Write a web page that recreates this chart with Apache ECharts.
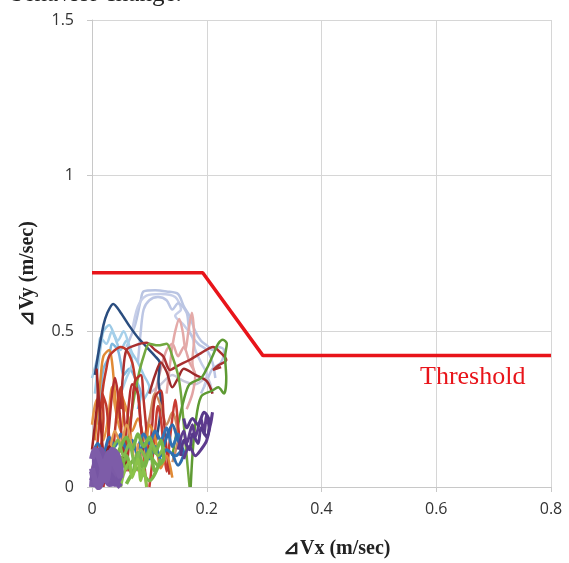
<!DOCTYPE html>
<html><head><meta charset="utf-8">
<script src="https://cdn.jsdelivr.net/npm/echarts@6/dist/echarts.min.js"></script>
<style>html,body{margin:0;padding:0;background:#fff}#c{width:569px;height:563px}</style>
</head><body><div id="c"></div>
<script>
const xTicks = [0, 0.2, 0.4, 0.6, 0.8];
const yTicks = [0, 0.5, 1, 1.5];
const threshold = [[0,0.688],[0.193,0.688],[0.298,0.422],[0.8,0.422]];

const tDarkBlue = [[0.005,0.36],[0.012,0.44],[0.02,0.52],[0.026,0.556],[0.037,0.588],[0.05,0.56],[0.066,0.515],[0.08,0.48],[0.095,0.45],[0.11,0.42],[0.118,0.40],[0.116,0.34],[0.12,0.28],[0.118,0.22],[0.112,0.15]];
const tLav1 = [[0.06,0.45],[0.075,0.52],[0.085,0.6],[0.09,0.628],[0.11,0.632],[0.13,0.628],[0.15,0.62],[0.16,0.58],[0.17,0.55],[0.18,0.5],[0.19,0.47],[0.2,0.455],[0.21,0.44],[0.22,0.45],[0.23,0.44],[0.225,0.40],[0.21,0.38],[0.2,0.34],[0.19,0.3]];
const tLav2 = [[0.07,0.5],[0.08,0.58],[0.095,0.615],[0.12,0.62],[0.145,0.61],[0.155,0.57],[0.145,0.55],[0.16,0.52],[0.175,0.48],[0.18,0.44],[0.19,0.4],[0.2,0.36],[0.195,0.32]];
const tLav3 = [[0.08,0.4],[0.085,0.5],[0.09,0.57],[0.1,0.6],[0.115,0.61],[0.13,0.6],[0.14,0.57],[0.15,0.59],[0.165,0.56],[0.17,0.5],[0.185,0.46],[0.2,0.44],[0.21,0.4],[0.215,0.35]];
const tLightBlue1 = [[0.005,0.3],[0.01,0.38],[0.015,0.45],[0.02,0.5],[0.03,0.52],[0.04,0.48],[0.05,0.44],[0.06,0.47],[0.07,0.43],[0.08,0.4],[0.09,0.36],[0.1,0.32],[0.09,0.28]];
const tLightBlue2 = [[0.01,0.2],[0.015,0.3],[0.02,0.38],[0.03,0.42],[0.035,0.46],[0.045,0.44],[0.05,0.4],[0.055,0.36],[0.065,0.38],[0.075,0.35],[0.085,0.3],[0.08,0.25]];
const tLightBlue3 = [[0.0,0.35],[0.01,0.42],[0.015,0.48],[0.025,0.46],[0.035,0.5],[0.045,0.47],[0.055,0.5],[0.065,0.45],[0.07,0.4],[0.06,0.35],[0.05,0.3]];
const tPink = [[0.1,0.2],[0.11,0.3],[0.12,0.38],[0.13,0.44],[0.14,0.46],[0.15,0.42],[0.16,0.45],[0.17,0.4],[0.18,0.36],[0.175,0.3],[0.165,0.25]];
const tPink2 = [[0.13,0.3],[0.135,0.38],[0.14,0.45],[0.145,0.5],[0.152,0.54],[0.158,0.5],[0.163,0.44],[0.168,0.5],[0.174,0.56],[0.178,0.48],[0.175,0.4],[0.18,0.36]];
const tRed1 = [[0.005,0.05],[0.01,0.15],[0.015,0.25],[0.02,0.33],[0.025,0.38],[0.03,0.42],[0.04,0.44],[0.05,0.45],[0.06,0.44],[0.07,0.4],[0.075,0.35],[0.08,0.3],[0.085,0.2],[0.09,0.12]];
const tRed2 = [[0.05,0.25],[0.054,0.36],[0.06,0.44],[0.075,0.455],[0.095,0.463],[0.11,0.44],[0.124,0.42],[0.136,0.376],[0.15,0.39],[0.17,0.408],[0.19,0.43],[0.211,0.45],[0.225,0.43],[0.234,0.408],[0.22,0.39],[0.211,0.376],[0.225,0.385]];
const tOrange = [[0.005,0.15],[0.01,0.25],[0.015,0.35],[0.02,0.42],[0.03,0.44],[0.035,0.4],[0.04,0.3],[0.045,0.22],[0.05,0.3],[0.06,0.25],[0.07,0.18],[0.08,0.22],[0.09,0.15]];
const tGreen1 = [[0.06,0.1],[0.07,0.25],[0.08,0.35],[0.09,0.42],[0.1,0.46],[0.115,0.455],[0.13,0.46],[0.14,0.42],[0.15,0.36],[0.155,0.3],[0.16,0.2],[0.165,0.1],[0.17,0.0]];
const tGreen2 = [[0.14,0.1],[0.15,0.2],[0.16,0.28],[0.17,0.33],[0.19,0.35],[0.2,0.38],[0.21,0.42],[0.22,0.46],[0.228,0.473],[0.235,0.46],[0.232,0.42],[0.234,0.35],[0.23,0.3],[0.22,0.32],[0.21,0.31],[0.19,0.29],[0.18,0.2],[0.175,0.1],[0.172,0.0]];
const tPurple1 = [[0.15,0.12],[0.16,0.18],[0.165,0.14],[0.175,0.2],[0.18,0.16],[0.19,0.22],[0.195,0.17],[0.2,0.23],[0.205,0.19],[0.21,0.24],[0.2,0.15],[0.19,0.12],[0.18,0.1],[0.17,0.13],[0.16,0.09]];
const tPurple2 = [[0.0,0.0],[0.005,0.08],[0.01,0.03],[0.015,0.1],[0.02,0.04],[0.025,0.09],[0.03,0.02],[0.035,0.07],[0.04,0.01],[0.045,0.06],[0.03,0.05],[0.02,0.09],[0.01,0.06],[0.005,0.01],[0.0,0.05],[0.012,0.0],[0.025,0.05],[0.04,0.04]];
const tPurple3 = [[0.0,0.02],[0.01,0.07],[0.02,0.1],[0.03,0.08],[0.04,0.1],[0.05,0.06],[0.045,0.02],[0.03,0.01],[0.02,0.04],[0.01,0.02],[0.005,0.09],[0.015,0.12],[0.025,0.06],[0.035,0.03],[0.05,0.0]];
const tPurple4 = [[0.155,0.1],[0.16,0.15],[0.17,0.12],[0.175,0.17],[0.185,0.14],[0.19,0.19],[0.2,0.16],[0.205,0.21],[0.195,0.24],[0.185,0.2],[0.175,0.22],[0.165,0.19],[0.16,0.22]];
const tPurple5 = [[0.0,0.06],[0.01,0.0],[0.02,0.06],[0.03,0.11],[0.04,0.07],[0.05,0.03],[0.045,0.1],[0.035,0.12],[0.025,0.02],[0.015,0.08],[0.005,0.12],[0.0,0.09]];
const tGreen3 = [[0.02,0.02],[0.03,0.08],[0.04,0.12],[0.05,0.06],[0.06,0.1],[0.07,0.04],[0.08,0.11],[0.09,0.07],[0.1,0.12],[0.11,0.05],[0.12,0.09],[0.1,0.02],[0.08,0.06],[0.06,0.01]];
const tGreen5 = [[0.04,0.08],[0.05,0.13],[0.06,0.16],[0.07,0.12],[0.08,0.17],[0.09,0.13],[0.1,0.16],[0.11,0.11],[0.12,0.15],[0.125,0.09],[0.115,0.07],[0.1,0.1],[0.09,0.06],[0.075,0.09],[0.06,0.06],[0.05,0.1]];
const tGreen6 = [[0.035,0.12],[0.045,0.15],[0.055,0.1],[0.065,0.14],[0.075,0.07],[0.085,0.12],[0.095,0.09],[0.105,0.14],[0.115,0.1],[0.125,0.13]];
const tBlue = [[0.0,0.1],[0.01,0.14],[0.02,0.11],[0.03,0.16],[0.04,0.13],[0.05,0.17],[0.06,0.12],[0.07,0.15],[0.08,0.1],[0.09,0.14],[0.1,0.09],[0.11,0.13],[0.12,0.08]];
const tBlue2 = [[0.08,0.12],[0.09,0.17],[0.1,0.14],[0.11,0.18],[0.12,0.15],[0.13,0.19],[0.14,0.13],[0.15,0.17],[0.155,0.12],[0.145,0.1],[0.13,0.12],[0.12,0.1],[0.105,0.12]];
const tBlue3 = [[0.12,0.1],[0.13,0.16],[0.14,0.2],[0.15,0.15],[0.16,0.11],[0.15,0.07],[0.14,0.11]];
const tRed3 = [[0.02,0.0],[0.025,0.1],[0.03,0.2],[0.035,0.3],[0.04,0.35],[0.045,0.3],[0.05,0.2],[0.055,0.1],[0.06,0.18],[0.065,0.28],[0.07,0.33],[0.08,0.3],[0.085,0.2],[0.09,0.1],[0.095,0.0]];
const tRed4 = [[0.1,0.0],[0.105,0.08],[0.11,0.18],[0.115,0.26],[0.12,0.22],[0.125,0.12],[0.13,0.05],[0.135,0.14],[0.14,0.22],[0.145,0.28],[0.15,0.2],[0.155,0.1]];
const tRed5 = [[0.01,0.02],[0.015,0.12],[0.02,0.22],[0.018,0.3],[0.025,0.26],[0.03,0.16],[0.035,0.08],[0.04,0.18],[0.045,0.27],[0.05,0.32],[0.055,0.24],[0.06,0.14],[0.065,0.05]];
const tRed6 = [[0.06,0.05],[0.065,0.15],[0.07,0.26],[0.075,0.34],[0.085,0.36],[0.09,0.28],[0.095,0.18],[0.1,0.1],[0.105,0.2],[0.11,0.29],[0.12,0.31],[0.125,0.22],[0.13,0.12],[0.135,0.04]];
const tRed7 = [[0.1,0.3],[0.11,0.36],[0.12,0.4],[0.13,0.37],[0.14,0.32],[0.15,0.35],[0.16,0.38],[0.18,0.36],[0.2,0.34],[0.21,0.3]];
const tTan = [[0.08,0.05],[0.09,0.15],[0.1,0.22],[0.11,0.3],[0.12,0.26],[0.13,0.2],[0.14,0.24],[0.15,0.16],[0.14,0.08]];
const tGrey = [[0.1,0.3],[0.12,0.33],[0.14,0.36],[0.16,0.34],[0.18,0.33],[0.2,0.35],[0.21,0.3]];
const tOrange2 = [[0.03,0.1],[0.04,0.18],[0.05,0.14],[0.06,0.2],[0.07,0.12],[0.075,0.06],[0.08,0.14]];
const tOrange3 = [[0.0,0.2],[0.008,0.28],[0.015,0.24],[0.02,0.15],[0.028,0.22],[0.035,0.32],[0.04,0.26],[0.05,0.18],[0.058,0.26],[0.065,0.2],[0.072,0.1]];
const tOrange4 = [[0.09,0.05],[0.095,0.14],[0.1,0.2],[0.11,0.16],[0.12,0.06],[0.13,0.1],[0.14,0.03]];
const tGreen4 = [[0.05,0.0],[0.055,0.04],[0.065,0.08],[0.07,0.03],[0.08,0.09],[0.085,0.02],[0.09,0.06],[0.095,0.0]];
const tDarkRed = [[0.0,0.05],[0.01,0.1],[0.02,0.07],[0.03,0.13],[0.04,0.09],[0.05,0.12],[0.06,0.06]];
const tDarkRed2 = [[0.0,0.12],[0.005,0.2],[0.01,0.3],[0.008,0.38],[0.012,0.28],[0.016,0.18],[0.02,0.1]];

const traj = [
  [tLav1,'#b9c4e2',2.5],[tLav2,'#c6cee8',2.5],[tLav3,'#bcc6e4',2.5],[tGrey,'#c8c8da',2.5],[tPink,'#e2a4a4',2.5],[tPink2,'#e4aaa8',2.5],
  [tLightBlue1,'#9ccae6',2.5],[tLightBlue2,'#7fb8de',2.5],[tLightBlue3,'#a6d0ea',2.5],[tDarkBlue,'#2a4d7f',2.5],
  [tOrange,'#e08a35',2.5],[tOrange3,'#e59545',2.5],[tRed1,'#c0392b',2.5],[tRed2,'#a93030',2.5],[tRed7,'#9e2a2a',2.5],
  [tGreen1,'#72a83f',2.5],[tGreen2,'#5e9a33',2.5],[tTan,'#cc8c60',2.5],[tRed3,'#b52d2d',2.5],
  [tRed4,'#c83c32',2.5],[tRed5,'#c0392b',2.5],[tRed6,'#b8322c',2.5],[tOrange4,'#e08a35',2.5],
  [tBlue,'#2f6fb3',3],[tBlue2,'#3273b5',3],[tBlue3,'#2d6cae',3],[tOrange2,'#e39a4f',2.5],[tDarkRed,'#8b2020',3],[tDarkRed2,'#a02525',2.5],
  [tPurple1,'#5e3b8e',3],[tPurple4,'#57388a',3],[tGreen3,'#7ab648',3.5],[tGreen5,'#78b545',3.5],[tGreen6,'#82bb4e',3],
  [tGreen4,'#8bc34a',3],[tPurple2,'#7b5aa6',6],[tPurple3,'#7655a3',6],[tPurple5,'#7d5ca8',6]
];

const series = traj.map(([d,c,w]) => ({
  type:'line', data:d, showSymbol:false, smooth:0.3, silent:true,
  lineStyle:{color:c,width:w}, z:2
}));
series.push({type:'line', data:threshold, showSymbol:false, silent:true,
  lineStyle:{color:'#e8141a',width:3.5}, z:5});

const chart = echarts.init(document.getElementById('c'));
chart.setOption({
  animation:false,
  grid:{left:92, right:18, top:20, bottom:76},
  xAxis:{type:'value', min:0, max:0.8, interval:0.2,
    axisLine:{show:true,lineStyle:{color:'#c8c8c8'}},
    axisTick:{show:true,length:5,lineStyle:{color:'#c8c8c8'}},
    splitLine:{show:true,lineStyle:{color:'#d6d6d6'}},
    axisLabel:{margin:14,color:'#333',fontSize:16,fontFamily:'Open Sans',
      formatter:v=>xTicks.includes(+v.toFixed(1))? String(+v.toFixed(1)):''}},
  yAxis:{type:'value', min:0, max:1.5, interval:0.5,
    axisLine:{show:true,lineStyle:{color:'#c8c8c8'}},
    axisTick:{show:true,length:5,lineStyle:{color:'#c8c8c8'}},
    splitLine:{show:true,lineStyle:{color:'#d6d6d6'}},
    axisLabel:{margin:18,color:'#333',fontSize:16,fontFamily:'Open Sans',
      formatter:v=>yTicks.includes(v)? String(v):''}},
  graphic:[
    {type:'text', left:11, top:-18, style:{text:'behavior change.', font:'25px "Liberation Serif"', fill:'#222'}},
    {type:'text', left:420, top:364, style:{text:'Threshold', font:'26px "Liberation Serif"', fill:'#e8141a'}},
    {type:'text', left:283, top:539, style:{text:'⊿Vx (m/sec)', font:'bold 20px "Liberation Serif"', fill:'#222'}},
    {type:'text', x:28, y:274, rotation:Math.PI/2, style:{text:'⊿Vy (m/sec)', font:'bold 20px "Liberation Serif"', fill:'#222', align:'center', verticalAlign:'middle'}}
  ],
  series
});
</script></body></html>
